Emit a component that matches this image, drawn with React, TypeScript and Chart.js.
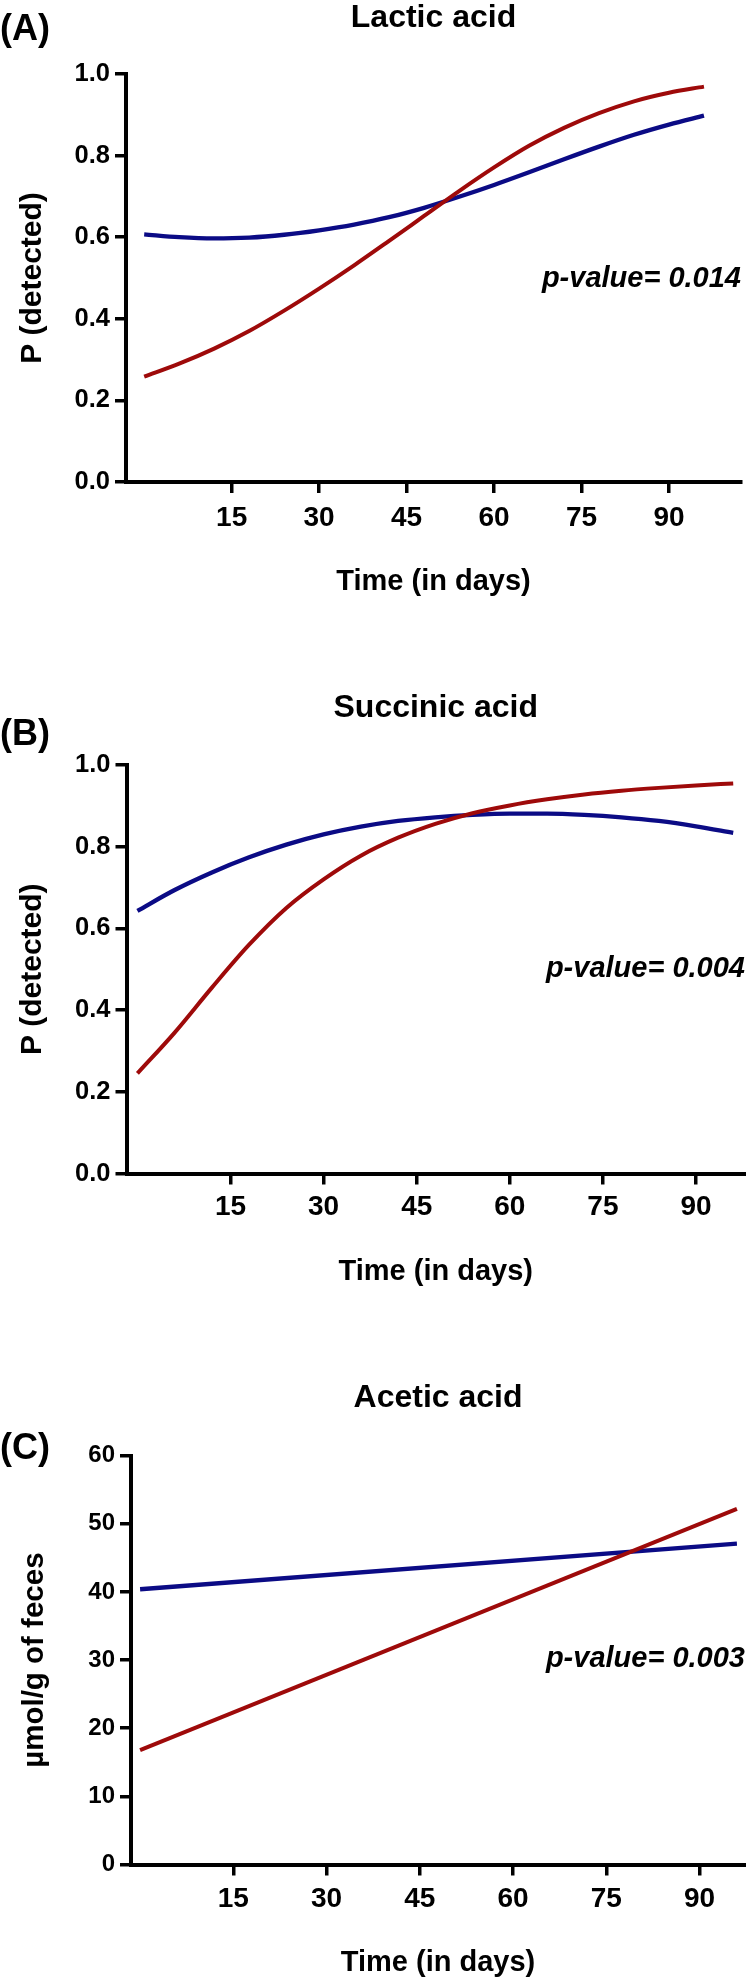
import React, { useEffect, useRef } from 'react';
import { Chart, registerables } from 'chart.js';

Chart.register(...registerables);

// ---------- data ----------
const daysAB = [0, 6, 12, 18, 24, 30, 36, 42, 48, 54, 60, 66, 72, 78, 84, 90, 96];
const lacticBlue = [0.607, 0.6, 0.597, 0.599, 0.606, 0.617, 0.631, 0.649, 0.672, 0.699, 0.728, 0.759, 0.791, 0.822, 0.851, 0.876, 0.898];
const lacticRed = [0.258, 0.29, 0.327, 0.37, 0.42, 0.474, 0.531, 0.591, 0.652, 0.713, 0.771, 0.824, 0.868, 0.904, 0.933, 0.954, 0.969];
const succinicBlue = [0.643, 0.694, 0.737, 0.774, 0.805, 0.83, 0.849, 0.863, 0.872, 0.878, 0.881, 0.881, 0.878, 0.872, 0.863, 0.85, 0.834];
const succinicRed = [0.245, 0.345, 0.455, 0.56, 0.65, 0.72, 0.778, 0.822, 0.856, 0.882, 0.901, 0.916, 0.928, 0.937, 0.944, 0.95, 0.955];
const daysC = [0, 96];
const aceticBlue = [40.4, 47.1];
const aceticRed = [16.8, 52.2];
const xTickValues = [15, 30, 45, 60, 75, 90];

const BLUE = '#0b0b85';
const RED = '#9e0a0a';
const FONT = "'Liberation Sans', Arial, Helvetica, sans-serif";

type Panel = {
  height: number;
  pad: { top: number; right: number; bottom: number; left: number };
  yWidth: number;
  xHeight: number;
  yMin: number;
  yMax: number;
  yStep: number;
  yDecimals: number;
  yTickSize: number;
  yTitle: string;
  yTitleSize: number;
  yTitlePad: number;
  xMin: number;
  xMax: number;
  xTickPad: number;
  title: string;
  titleBaseline: number;
  letter: string;
  letterBaseline: number;
  pText: string;
  pPos: number;
  pRight: number;
  days: number[];
  blue: number[];
  red: number[];
};

const panels: Panel[] = [
  {
    height: 640,
    pad: { top: 74, right: 5, bottom: 40.6, left: 0 },
    yWidth: 126, xHeight: 117.4,
    yMin: 0, yMax: 1, yStep: 0.2, yDecimals: 1, yTickSize: 25.5,
    yTitle: 'P (detected)', yTitleSize: 30, yTitlePad: 14.5,
    xMin: -3.12, xMax: 102.35, xTickPad: 8.7,
    title: 'Lactic acid', titleBaseline: 27,
    letter: '(A)', letterBaseline: 39.5,
    pText: 'p-value= 0.014', pPos: 0.478, pRight: 741,
    days: daysAB, blue: lacticBlue, red: lacticRed,
  },
  {
    height: 650,
    pad: { top: 125, right: 1, bottom: 0.6, left: 0 },
    yWidth: 126.5, xHeight: 115.9,
    yMin: 0, yMax: 1, yStep: 0.2, yDecimals: 1, yTickSize: 25.5,
    yTitle: 'P (detected)', yTitleSize: 30, yTitlePad: 14.5,
    xMin: -1.76, xMax: 97.9, xTickPad: 5.7,
    title: 'Succinic acid', titleBaseline: 77,
    letter: '(B)', letterBaseline: 104.5,
    pText: 'p-value= 0.004', pPos: 0.482, pRight: 745,
    days: daysAB, blue: succinicBlue, red: succinicRed,
  },
  {
    height: 690,
    pad: { top: 165.7, right: 1, bottom: 0, left: 0 },
    yWidth: 131, xHeight: 115.5,
    yMin: 0, yMax: 60, yStep: 10, yDecimals: 0, yTickSize: 24,
    yTitle: '\u00B5mol/g of feces', yTitleSize: 29.5, yTitlePad: 17.3,
    xMin: -1.46, xMax: 97.3, xTickPad: 6.7,
    title: 'Acetic acid', titleBaseline: 117,
    letter: '(C)', letterBaseline: 169.4,
    pText: 'p-value= 0.003', pPos: 29, pRight: 745,
    days: daysC, blue: aceticBlue, red: aceticRed,
  },
];

const panelTextPlugin = {
  id: 'panelText',
  afterDraw(chart: any, _args: any, opts: any) {
    const { ctx, chartArea } = chart;
    ctx.save();
    ctx.fillStyle = '#000';
    ctx.textBaseline = 'alphabetic';
    ctx.font = `bold 32px ${FONT}`;
    ctx.textAlign = 'center';
    ctx.fillText(opts.title, (chartArea.left + chartArea.right) / 2, opts.titleBaseline);
    ctx.font = `bold 36px ${FONT}`;
    ctx.textAlign = 'left';
    ctx.fillText(opts.letter, 0, opts.letterBaseline);
    ctx.font = `italic bold 29px ${FONT}`;
    ctx.textAlign = 'right';
    const y = chart.scales.y.getPixelForValue(opts.pPos);
    ctx.fillText(opts.pText, opts.pRight, y);
    ctx.restore();
  },
};

function PanelChart({ p }: { p: Panel }) {
  const ref = useRef<HTMLCanvasElement | null>(null);
  useEffect(() => {
    if (!ref.current) return;
    const toPts = (vals: number[]) => vals.map((v, i) => ({ x: p.days[i], y: v }));
    const chart = new Chart(ref.current, {
      type: 'line',
      data: {
        datasets: [
          {
            data: toPts(p.red),
            borderColor: RED,
            borderWidth: 4,
            pointRadius: 0,
            cubicInterpolationMode: 'monotone',
            fill: false,
          },
          {
            data: toPts(p.blue),
            borderColor: BLUE,
            borderWidth: 4.3,
            pointRadius: 0,
            cubicInterpolationMode: 'monotone',
            fill: false,
          },
        ],
      },
      options: {
        animation: false,
        responsive: true,
        maintainAspectRatio: false,
        layout: { padding: p.pad },
        plugins: {
          legend: { display: false },
          tooltip: { enabled: false },
          title: { display: false },
          panelText: {
            title: p.title,
            titleBaseline: p.titleBaseline,
            letter: p.letter,
            letterBaseline: p.letterBaseline,
            pText: p.pText,
            pPos: p.pPos,
            pRight: p.pRight,
          },
        } as any,
        scales: {
          x: {
            type: 'linear',
            min: p.xMin,
            max: p.xMax,
            afterBuildTicks: (scale: any) => {
              scale.ticks = xTickValues.map((v) => ({ value: v }));
            },
            afterFit: (scale: any) => {
              scale.height = p.xHeight;
            },
            ticks: {
              autoSkip: false,
              maxRotation: 0,
              padding: p.xTickPad,
              color: '#000',
              font: { family: FONT, size: 28, weight: 'bold' },
              callback: (v: any) => String(v),
            },
            grid: {
              display: true,
              drawOnChartArea: false,
              drawTicks: true,
              tickLength: 11,
              tickWidth: 3.5,
              tickColor: '#000',
              lineWidth: 3.5,
              color: '#000',
            },
            border: { display: true, color: '#000', width: 4 },
            title: {
              display: true,
              text: 'Time (in days)',
              color: '#000',
              font: { family: FONT, size: 29, weight: 'bold' },
              padding: { top: 0, bottom: 0 },
            },
          },
          y: {
            type: 'linear',
            min: p.yMin,
            max: p.yMax,
            afterFit: (scale: any) => {
              scale.width = p.yWidth;
            },
            ticks: {
              stepSize: p.yStep,
              padding: 5,
              color: '#000',
              font: { family: FONT, size: p.yTickSize, weight: 'bold' },
              callback: (v: any) => Number(v).toFixed(p.yDecimals),
            },
            grid: {
              display: true,
              drawOnChartArea: false,
              drawTicks: true,
              tickLength: 11,
              tickWidth: 3.5,
              tickColor: '#000',
              lineWidth: 3.5,
              color: '#000',
            },
            border: { display: true, color: '#000', width: 4 },
            title: {
              display: true,
              text: p.yTitle,
              color: '#000',
              font: { family: FONT, size: p.yTitleSize, weight: 'bold' },
              padding: { top: p.yTitlePad, bottom: 0 },
            },
          },
        },
      } as any,
      plugins: [panelTextPlugin],
    });
    return () => chart.destroy();
  }, [p]);

  return (
    <div style={{ position: 'relative', width: 746, height: p.height }}>
      <canvas ref={ref} />
    </div>
  );
}

export default function App() {
  useEffect(() => {
    document.body.style.margin = '0';
    document.body.style.background = '#fff';
  }, []);
  return (
    <div style={{ width: 746, background: '#fff' }}>
      {panels.map((p, i) => (
        <PanelChart key={i} p={p} />
      ))}
    </div>
  );
}
